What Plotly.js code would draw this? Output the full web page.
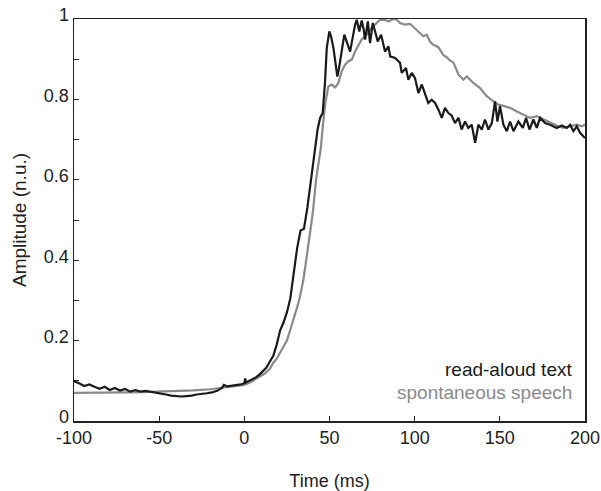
<!DOCTYPE html>
<html><head><meta charset="utf-8">
<script src="https://cdn.plot.ly/plotly-3.0.1.min.js"></script>
<style>html,body{margin:0;padding:0;background:#fff}#chart{width:601px;height:491px}</style>
</head><body><div id="chart"></div>
<script>
const readX = [-100,-97,-94,-91,-88,-85,-82,-79,-76,-73,-70,-67,-64,-61,-58,-55,-52,-49,-46,-43,-40,-37,-34,-31,-28,-25,-22,-19,-16,-13,-12,-10,-8,-6,-4,-2,0,0.5,1,3,5,7,9,11,13,15,17,19,21,23,25,27,29,31,33,35,37,39,41,43,44.5,46,47.4,48.4,49.9,51,52.3,53.5,54.6,55.5,56.6,57.7,58.7,60,61.1,62.1,63,64,65,66,67.5,68.9,70,70.9,72.5,73.8,75.4,77.3,78.3,80.3,82.6,84.6,85.6,88.5,91.4,92.4,94.9,96.3,98.3,100.2,102.2,104.2,106.1,108,110,112,113.9,115.9,117.8,119.8,121.7,123.7,125.7,127.6,129.6,131.5,133.5,135.5,137.4,139.4,141.3,143.3,145.3,147.2,148.6,150.1,152.1,154.1,156,158,160.9,163.5,165.4,167.4,169.7,171.7,173.6,176.6,179.5,183.4,186.4,189.3,191.3,193.2,195.2,197.1,200];
const readY = [0.099,0.094,0.087,0.091,0.085,0.080,0.085,0.077,0.082,0.076,0.080,0.073,0.077,0.073,0.075,0.073,0.071,0.068,0.066,0.063,0.062,0.061,0.062,0.063,0.066,0.067,0.069,0.071,0.075,0.083,0.090,0.086,0.087,0.088,0.089,0.091,0.094,0.106,0.096,0.100,0.104,0.109,0.116,0.124,0.133,0.148,0.162,0.190,0.225,0.245,0.270,0.305,0.365,0.430,0.474,0.478,0.530,0.595,0.665,0.725,0.754,0.766,0.845,0.928,0.969,0.955,0.928,0.885,0.857,0.875,0.903,0.935,0.961,0.945,0.928,0.919,0.940,0.965,0.985,0.998,0.969,0.996,0.975,0.949,0.994,0.940,0.990,0.961,0.944,0.961,0.919,0.932,0.907,0.903,0.891,0.866,0.878,0.849,0.866,0.853,0.816,0.837,0.812,0.791,0.799,0.791,0.775,0.754,0.779,0.766,0.760,0.741,0.754,0.725,0.745,0.729,0.737,0.692,0.737,0.725,0.750,0.725,0.741,0.795,0.745,0.783,0.737,0.721,0.745,0.721,0.745,0.729,0.754,0.725,0.750,0.729,0.754,0.741,0.737,0.729,0.735,0.729,0.737,0.721,0.733,0.717,0.704];
const spontX = [-100,-90,-80,-70,-60,-50,-40,-30,-20,-15,-10,-5,0,3,6,9,12,15,17,19,21,23,25,27,29,30.4,31.5,32.7,34.7,36,37.6,40.2,42.1,43.5,44.9,46,47.4,49.3,51.3,53.3,55.2,57.2,59.1,61.1,63.1,65,66.9,68.9,71.9,74.8,77.7,79.7,82.6,84.6,87.5,89.5,91.4,94.3,97.3,100.2,103.1,105.1,107.1,109,111,113.9,116.9,118.8,120.7,122.7,125.7,128.6,130.6,132.5,134.5,138.4,142.3,146.2,149.1,152.1,156,160,163.8,167.8,171.7,175.6,179.5,183.4,187.3,191.3,195.2,198.1,200];
const spontY = [0.070,0.070,0.071,0.071,0.072,0.073,0.074,0.076,0.079,0.082,0.085,0.088,0.090,0.095,0.103,0.110,0.118,0.130,0.145,0.155,0.170,0.186,0.200,0.227,0.255,0.269,0.290,0.310,0.352,0.390,0.435,0.518,0.600,0.640,0.679,0.730,0.787,0.832,0.837,0.830,0.841,0.870,0.886,0.895,0.899,0.919,0.932,0.949,0.961,0.978,0.990,0.998,0.998,0.994,1.0,0.998,0.990,0.986,0.988,0.976,0.965,0.957,0.961,0.944,0.936,0.930,0.910,0.905,0.897,0.892,0.862,0.849,0.857,0.848,0.841,0.828,0.808,0.795,0.787,0.784,0.779,0.770,0.762,0.754,0.758,0.750,0.741,0.735,0.729,0.733,0.737,0.733,0.737];
const seriesNames = ['read-aloud text','spontaneous speech'];
const xTicks = [-100,-50,0,50,100,150,200];
const yTicks = [0,0.2,0.4,0.6,0.8,1];
const yTickText = ['0','0.2','0.4','0.6','0.8','1'];

const black = '#1a1a1a', gray = '#8a8a8a';
const font = {family:'"Liberation Sans", Arial, sans-serif', size:18, color:'#222'};
const traces = [
  {x: spontX, y: spontY, mode:'lines', line:{color:gray, width:2.2}, name:seriesNames[1], hoverinfo:'skip'},
  {x: readX, y: readY, mode:'lines', line:{color:black, width:2.2}, name:seriesNames[0], hoverinfo:'skip'}
];
const layout = {
  width:601, height:491,
  margin:{l:74, r:16, t:19, b:70},
  paper_bgcolor:'#fff', plot_bgcolor:'#fff',
  showlegend:false,
  font: font,
  xaxis:{range:[-100,200], tickvals:xTicks, ticktext:xTicks.map(String), ticks:'inside', ticklen:5, tickcolor:'#222',
    showline:true, linecolor:'#222', linewidth:1.5, mirror:true, showgrid:false, zeroline:false,
    tickfont:{size:18}, title:{text:'Time (ms)', font:{size:18}, standoff:28}},
  yaxis:{range:[0,1], tickvals:yTicks, ticktext:yTickText, ticks:'inside', ticklen:5, tickcolor:'#222',
    minor:{tickvals:[0.1,0.3,0.5,0.7,0.9], ticks:'inside', ticklen:5, tickcolor:'#222'},
    showline:true, linecolor:'#222', linewidth:1.5, mirror:true, showgrid:false, zeroline:false,
    ticklabelshift:-4,
    tickfont:{size:18}, title:{text:'Amplitude (n.u.)', font:{size:19}, standoff:12}},
  annotations:[
    {x:193, y:0.128, xref:'x', yref:'y', text:seriesNames[0], showarrow:false, xanchor:'right', yanchor:'middle', borderpad:0, font:{size:19, color:black}},
    {x:193, y:0.072, xref:'x', yref:'y', text:seriesNames[1], showarrow:false, xanchor:'right', yanchor:'middle', borderpad:0, font:{size:19, color:gray}}
  ]
};
Plotly.newPlot('chart', traces, layout, {staticPlot:true, displayModeBar:false});
</script></body></html>
